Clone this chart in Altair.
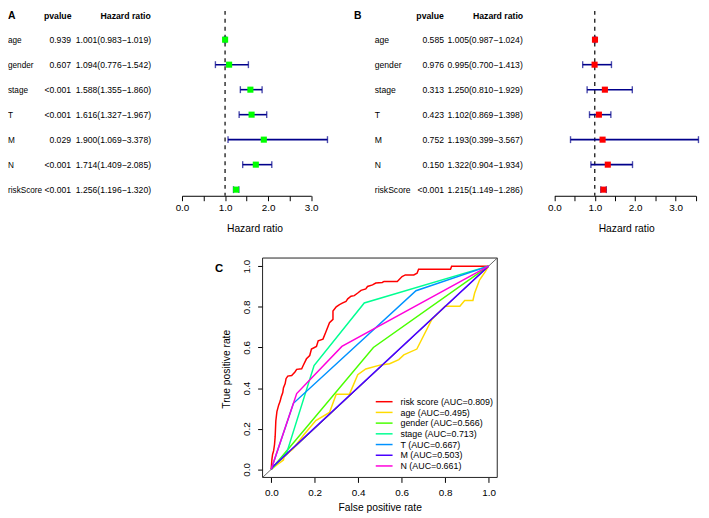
import altair as alt
import pandas as pd

W, H = 701, 510
FONT = "Liberation Sans"

# ---------------- data ----------------
variables = ["age", "gender", "stage", "T", "M", "N", "riskScore"]

a_pvalue = ["0.939", "0.607", "<0.001", "<0.001", "0.029", "<0.001", "<0.001"]
a_hr = [1.001, 1.094, 1.588, 1.616, 1.900, 1.714, 1.256]
a_lo = [0.983, 0.776, 1.355, 1.327, 1.069, 1.409, 1.196]
a_hi = [1.019, 1.542, 1.860, 1.967, 3.378, 2.085, 1.320]

b_pvalue = ["0.585", "0.976", "0.313", "0.423", "0.752", "0.150", "<0.001"]
b_hr = [1.005, 0.995, 1.250, 1.102, 1.193, 1.322, 1.215]
b_lo = [0.987, 0.700, 0.810, 0.869, 0.399, 0.904, 1.149]
b_hi = [1.024, 1.413, 1.929, 1.398, 3.567, 1.934, 1.286]

a_ticks = [0, 0.5, 1, 1.5, 2, 2.5, 3]
b_ticks = [0, 0.5, 1, 1.5, 2, 2.5, 3, 3.5]
roc_ticks = [0, 0.2, 0.4, 0.6, 0.8, 1.0]

roc_names = ["risk score", "age", "gender", "stage", "T", "M", "N"]
roc_auc = [0.809, 0.495, 0.566, 0.713, 0.667, 0.503, 0.661]

risk_fpr = [0, 0, 0.003, 0.006, 0.011, 0.015, 0.018, 0.021, 0.026, 0.034, 0.041, 0.046,
            0.053, 0.056, 0.064, 0.068, 0.076, 0.094, 0.109, 0.117, 0.140, 0.147, 0.162,
            0.177, 0.185, 0.208, 0.216, 0.238, 0.253, 0.268, 0.284, 0.284, 0.299, 0.314,
            0.329, 0.344, 0.352, 0.367, 0.382, 0.398, 0.413, 0.435, 0.443, 0.466, 0.481,
            0.511, 0.519, 0.580, 0.602, 0.617, 0.656, 0.671, 0.678, 0.825, 0.830, 1.0]
risk_tpr = [0, 0.008, 0.049, 0.073, 0.092, 0.122, 0.162, 0.238, 0.284, 0.316, 0.336, 0.357,
            0.378, 0.401, 0.422, 0.446, 0.459, 0.462, 0.479, 0.492, 0.495, 0.511, 0.544,
            0.560, 0.592, 0.605, 0.633, 0.641, 0.681, 0.722, 0.738, 0.779, 0.800, 0.811,
            0.819, 0.827, 0.839, 0.852, 0.855, 0.868, 0.881, 0.888, 0.900, 0.908, 0.917,
            0.920, 0.925, 0.925, 0.949, 0.957, 0.957, 0.965, 0.985, 0.985, 1.0, 1.0]
age_fpr = [0, 0.030, 0.056, 0.060, 0.100, 0.150, 0.205, 0.268, 0.299, 0.360, 0.398, 0.435,
           0.504, 0.545, 0.587, 0.610, 0.670, 0.739, 0.800, 0.868, 0.890, 0.928, 0.936,
           0.959, 0.985, 1.0]
age_tpr = [0, 0.025, 0.045, 0.066, 0.100, 0.170, 0.240, 0.280, 0.370, 0.370, 0.466, 0.494,
           0.514, 0.520, 0.540, 0.563, 0.592, 0.738, 0.803, 0.803, 0.831, 0.831, 0.868,
           0.933, 0.973, 1.0]
gender_fpr = [0, 0.470, 1.0]
gender_tpr = [0, 0.600, 1.0]
stage_fpr = [0, 0.071, 0.197, 0.428, 1.0]
stage_tpr = [0, 0.081, 0.511, 0.819, 1.0]
t_fpr = [0, 0.102, 0.666, 1.0]
t_tpr = [0, 0.325, 0.879, 1.0]
m_fpr = [0, 0.006, 1.0]
m_tpr = [0, 0.012, 1.0]
n_fpr = [0, 0.117, 0.325, 1.0]
n_tpr = [0, 0.373, 0.605, 1.0]

roc_fpr = [risk_fpr, age_fpr, gender_fpr, stage_fpr, t_fpr, m_fpr, n_fpr]
roc_tpr = [risk_tpr, age_tpr, gender_tpr, stage_tpr, t_tpr, m_tpr, n_tpr]

# ---------------- styles ----------------
roc_colors = ["#FF0000", "#FFDB00", "#49FF00", "#00FF92", "#0092FF", "#4900FF", "#FF00DB"]
BAR_COLOR = "#00008B"
AX_Y = 187.0          # forest axis line (chart coords)
ROW_RANGE = [29.1, 180.8]
TXT = 8.7


def forest(pvals, hr, lo, hi, point_color, x_domain, x_range, ticks, name_x, p_x, hr_x,
           head_p_x, head_hr_x, panel, panel_x, title_x, name_size):
    df = pd.DataFrame({"var": variables, "pvalue": pvals, "hr": hr, "lo": lo, "hi": hi})
    df["hrtext"] = [f"{h:.3f}({l:.3f}\u2212{u:.3f})" for h, l, u in zip(hr, lo, hi)]
    y = alt.Y("var:N", scale=alt.Scale(type="point", domain=variables, range=ROW_RANGE,
                                       padding=0), axis=None)
    xs = alt.Scale(domain=x_domain, range=x_range, nice=False, zero=False)
    xa = alt.Axis(values=ticks, orient="bottom", offset=AX_Y - H,
                  labelExpr="datum.value % 1 === 0 ? format(datum.value, '.1f') : ''",
                  tickSize=5, tickColor="black", tickWidth=1, domainColor="black",
                  domainWidth=1, labelPadding=2, labelFontSize=10, labelColor="black",
                  labelFlush=False, labelOverlap=False, grid=False,
                  title="Hazard ratio", titleFontSize=10.4, titleFontWeight="normal",
                  titleColor="black", titleX=title_x, titleY=36,
                  titleBaseline="alphabetic", titleAlign="center")
    base = alt.Chart(df)
    ref = alt.Chart(pd.DataFrame({"ref": [1.0]})).mark_rule(
        color="black", strokeDash=[4, 4], strokeWidth=1.2).encode(
        x=alt.X("ref:Q", scale=xs, axis=xa), y=alt.value(0), y2=alt.value(AX_Y))
    bars = base.mark_rule(color=BAR_COLOR, strokeWidth=1.6).encode(
        x=alt.X("lo:Q", scale=xs, axis=xa), x2="hi:Q", y=y)
    cap_lo = base.mark_tick(color=BAR_COLOR, size=7, thickness=1.4).encode(
        x=alt.X("lo:Q", scale=xs, axis=xa), y=y)
    cap_hi = base.mark_tick(color=BAR_COLOR, size=7, thickness=1.4).encode(
        x=alt.X("hi:Q", scale=xs, axis=xa), y=y)
    pts = base.mark_square(color=point_color, size=38, opacity=1).encode(
        x=alt.X("hr:Q", scale=xs, axis=xa), y=y)
    names = base.mark_text(align="left", baseline="alphabetic", dy=3.1, fontSize=name_size,
                           color="black").encode(x=alt.value(name_x), y=y, text="var:N")
    pcol = base.mark_text(align="right", baseline="alphabetic", dy=3.1, fontSize=TXT,
                          color="black").encode(x=alt.value(p_x), y=y, text="pvalue:N")
    hcol = base.mark_text(align="right", baseline="alphabetic", dy=3.1, fontSize=TXT,
                          color="black").encode(x=alt.value(hr_x), y=y, text="hrtext:N")
    one = alt.Chart(alt.Data(values=[{"k": 1}]))
    h1 = one.mark_text(text="pvalue", align="center", baseline="alphabetic",
                       fontSize=8.8, fontWeight="bold", color="black").encode(
        x=alt.value(head_p_x), y=alt.value(8))
    h2 = one.mark_text(text="Hazard ratio", align="center", baseline="alphabetic",
                       fontSize=8.8, fontWeight="bold", color="black").encode(
        x=alt.value(head_hr_x), y=alt.value(8))
    lab = one.mark_text(text=panel, align="left", baseline="top", fontSize=10.5,
                        fontWeight="bold", color="black").encode(
        x=alt.value(panel_x), y=alt.value(0))
    return alt.layer(ref, bars, cap_lo, cap_hi, pts, names, pcol, hcol, h1, h2, lab)


panel_a = forest(a_pvalue, a_hr, a_lo, a_hi, "#00FF00", [0, 3], [176, 306.7], a_ticks,
                 0, 63.7, 144.7, 50.3, 119, "A", 0, 249.3, 8.3)
panel_b = forest(b_pvalue, b_hr, b_lo, b_hi, "#FF0000", [0, 3.5], [552.7, 695.7], b_ticks,
                 371, 441, 520.7, 427, 495.7, "B", 350, 625.3, TXT)

# ---------------- ROC panel ----------------
PAD = 0.04
BOX_BOTTOM = 471.9
BOX_LEFT = 257.5
rx = alt.Scale(domain=[0, 1], range=[266.3, 486.1], nice=False, zero=False)
ry = alt.Scale(domain=[0, 1], range=[463.7, 258.2], nice=False, zero=False)
x_axis = alt.Axis(values=roc_ticks, format=".1f", orient="bottom", offset=BOX_BOTTOM - H,
                  domain=False, tickSize=5, tickColor="black", labelPadding=5.5,
                  labelFontSize=10, labelColor="black", labelFlush=False,
                  labelOverlap=False, grid=False, title="False positive rate",
                  titleFontSize=10.4, titleFontWeight="normal", titleColor="black",
                  titleX=376, titleY=33.5, titleBaseline="alphabetic", titleAlign="center")
y_axis = alt.Axis(values=roc_ticks, format=".1f", orient="left", offset=-BOX_LEFT,
                  domain=False, tickSize=5, tickColor="black", labelPadding=8,
                  labelFontSize=10, labelColor="black", labelAngle=270,
                  labelAlign="center", labelBaseline="alphabetic", labelFlush=False,
                  labelOverlap=False, grid=False, title="True positive rate",
                  titleFontSize=10.4, titleFontWeight="normal", titleColor="black",
                  titleAngle=270, titleX=-33.5, titleY=362, titleBaseline="alphabetic",
                  titleAlign="center")

frame_df = pd.DataFrame({"fpr": [-PAD], "fpr2": [1 + PAD], "tpr": [-PAD], "tpr2": [1 + PAD]})
frame = alt.Chart(frame_df).mark_rect(
    fillOpacity=0, stroke="#222222", strokeWidth=1).encode(
    x=alt.X("fpr:Q", scale=rx, axis=x_axis), x2="fpr2:Q",
    y=alt.Y("tpr:Q", scale=ry, axis=y_axis), y2="tpr2:Q")
diag = alt.Chart(pd.DataFrame({"fpr": [-PAD, 1 + PAD], "tpr": [-PAD, 1 + PAD]})).mark_line(
    color="#555555", strokeWidth=0.9).encode(
    x=alt.X("fpr:Q", scale=rx, axis=x_axis), y=alt.Y("tpr:Q", scale=ry, axis=y_axis))

roc_layers = [frame, diag]
for name, fx, ty, col in zip(roc_names, roc_fpr, roc_tpr, roc_colors):
    d = pd.DataFrame({"fpr": fx, "tpr": ty, "idx": list(range(len(fx)))})
    roc_layers.append(
        alt.Chart(d).mark_line(color=col, strokeWidth=1.5).encode(
            x=alt.X("fpr:Q", scale=rx, axis=x_axis),
            y=alt.Y("tpr:Q", scale=ry, axis=y_axis),
            order="idx:Q"))
panel_c = alt.layer(*roc_layers)

c_label = alt.Chart(alt.Data(values=[{"k": 1}])).mark_text(
    text="C", align="left", baseline="alphabetic", fontSize=11.5, fontWeight="bold",
    color="black").encode(x=alt.value(209.3), y=alt.value(263.7))

# legend
leg = pd.DataFrame({"name": roc_names,
                    "label": [f"{n} (AUC={a:.3f})" for n, a in zip(roc_names, roc_auc)]})
leg_y = alt.Y("label:N", scale=alt.Scale(type="point", domain=list(leg["label"]),
                                         range=[395.3, 460.3], padding=0), axis=None)
leg_color = alt.Color("name:N", scale=alt.Scale(domain=roc_names, range=roc_colors),
                      legend=None)
leg_lines = alt.Chart(leg).mark_rule(strokeWidth=1.5).encode(
    x=alt.value(372), x2=alt.value(389), y=leg_y, color=leg_color)
leg_text = alt.Chart(leg).mark_text(align="left", baseline="alphabetic", dy=3.2,
                                    fontSize=9, color="black").encode(
    x=alt.value(397), y=leg_y, text="label:N")
legend = alt.layer(leg_lines, leg_text)

chart = alt.layer(panel_a, panel_b, panel_c, c_label, legend).resolve_scale(
    x="independent", y="independent", color="independent").resolve_axis(
    x="independent", y="independent").properties(
    width=W, height=H, padding=0,
    autosize=alt.AutoSizeParams(type="none")).configure(
    font=FONT).configure_view(strokeWidth=0)

chart.save("out.html", embed_options={"renderer": "svg", "actions": False})
